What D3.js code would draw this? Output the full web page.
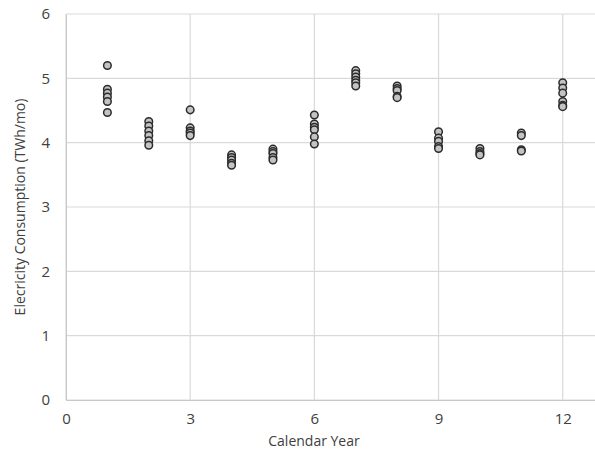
<!DOCTYPE html>
<html><head><meta charset="utf-8">
<script src="https://cdn.jsdelivr.net/npm/d3@7/dist/d3.min.js"></script>
<style>body{margin:0;background:#fff;} text{font-family:"Open Sans","Liberation Sans",sans-serif;}</style>
</head><body><svg id="c" width="595" height="456"></svg>
<script>
const months = [1,2,3,4,5,6,7,8,9,10,11,12];
const values = [
  [5.20,4.83,4.77,4.71,4.64,4.47],
  [4.33,4.26,4.18,4.11,4.03,3.96],
  [4.51,4.23,4.18,4.15,4.11],
  [3.81,3.77,3.73,3.68,3.65],
  [3.90,3.86,3.83,3.77,3.73],
  [4.43,4.29,4.24,4.20,4.09,3.98],
  [5.12,5.07,5.02,4.97,4.93,4.88],
  [4.88,4.84,4.81,4.72,4.70],
  [4.17,4.07,4.02,3.94,3.91],
  [3.91,3.86,3.83,3.81],
  [4.15,4.11,3.89,3.87],
  [4.93,4.85,4.77,4.64,4.58,4.56]
];
const xTicks = [0,3,6,9,12];
const yTicks = [0,1,2,3,4,5,6];

const svg = d3.select("#c");
const x = d3.scaleLinear().domain([0,12.78]).range([66,595]);
const y = d3.scaleLinear().domain([0,6]).range([400,14]);

// gridlines
svg.append("g").selectAll("line").data(yTicks).join("line")
  .attr("x1",x(0)).attr("x2",595).attr("y1",d=>y(d)).attr("y2",d=>y(d))
  .attr("stroke","#d9d9d9").attr("stroke-width",1.2);
svg.append("g").selectAll("line").data(xTicks).join("line")
  .attr("x1",d=>x(d)).attr("x2",d=>x(d)).attr("y1",y(0)).attr("y2",y(6))
  .attr("stroke","#d9d9d9").attr("stroke-width",1.2);

const fmt = d3.format("d");
const xa = svg.append("g").attr("transform",`translate(0,${y(0)})`)
  .call(d3.axisBottom(x).tickValues(xTicks).tickFormat(fmt).tickSize(0).tickPadding(13));
xa.select(".domain").attr("stroke","#c8c8c8");
xa.selectAll("text").attr("font-size",15).attr("fill","#404040").attr("font-family","'Open Sans','Liberation Sans',sans-serif");
const ya = svg.append("g").attr("transform",`translate(${x(0)},0)`)
  .call(d3.axisLeft(y).tickValues(yTicks).tickFormat(fmt).tickSize(0).tickPadding(16));
ya.select(".domain").attr("stroke","#c8c8c8");
ya.selectAll("text").attr("font-size",15).attr("fill","#404040").attr("font-family","'Open Sans','Liberation Sans',sans-serif");

// points
const pts = [];
months.forEach((m,i)=>values[i].forEach(v=>pts.push({m,v})));
svg.append("g").selectAll("circle").data(pts).join("circle")
  .attr("cx",d=>x(d.m)).attr("cy",d=>y(d.v)).attr("r",3.8)
  .attr("fill","#c3c3c3").attr("stroke","#2b2b2b").attr("stroke-width",1.5);

svg.append("text").attr("x",314).attr("y",446).attr("text-anchor","middle")
  .attr("font-size",14).attr("fill","#404040").text("Calendar Year");
svg.append("text").attr("transform",`translate(25,207) rotate(-90)`).attr("text-anchor","middle")
  .attr("font-size",14).attr("fill","#404040").text("Elecricity Consumption (TWh/mo)");
</script></body></html>
